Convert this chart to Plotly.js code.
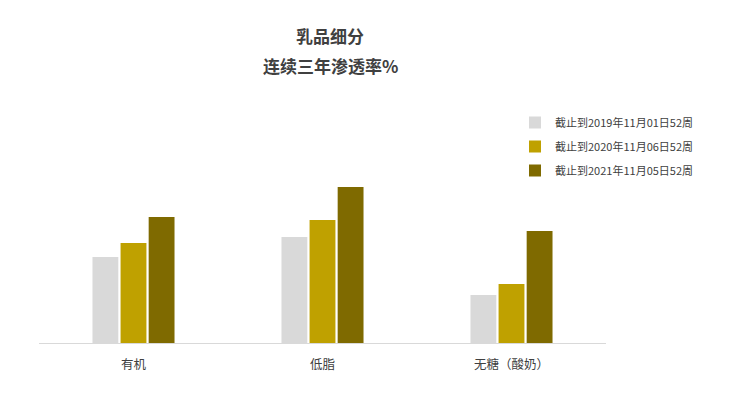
<!DOCTYPE html>
<html>
<head>
<meta charset="utf-8">
<script src="https://cdn.plot.ly/plotly-3.0.1.min.js"></script>
<style>html,body{margin:0;padding:0;background:#fff;}#chart{width:751px;height:396px;}</style>
</head>
<body>
<div id="chart"></div>
<script>
const categories = ['有机', '低脂', '无糖（酸奶）'];
const seriesNames = ['截止到2019年11月01日52周', '截止到2020年11月06日52周', '截止到2021年11月05日52周'];
const values2019 = [8.6, 10.6, 4.8];
const values2020 = [10.0, 12.3, 5.9];
const values2021 = [12.6, 15.6, 11.2];
const colors = ['#D9D9D9', '#BFA100', '#7F6A00'];

const font = '"Noto Sans CJK SC", "Microsoft YaHei", sans-serif';
const allValues = [values2019, values2020, values2021];
const traces = allValues.map((v, i) => ({
  type: 'bar',
  name: seriesNames[i],
  x: categories,
  y: v,
  marker: {color: colors[i]},
  legendgroup: 'g' + i,
  hoverinfo: 'none'
}));

const plotL = 39, plotR = 606, plotT = 100, plotB = 343;
const pw = plotR - plotL, ph = plotB - plotT;

const layout = {
  width: 751, height: 396,
  margin: {l: plotL, r: 751 - plotR, t: plotT, b: 396 - plotB, autoexpand: false},
  paper_bgcolor: '#fff', plot_bgcolor: '#fff',
  font: {family: font, color: '#404040', size: 12},
  title: {
    text: '<b>乳品细分</b>',
    xref: 'container', x: 330 / 751, xanchor: 'center',
    yref: 'container', y: 1 - 37 / 396, yanchor: 'middle',
    font: {family: font, size: 17, color: '#404040'}
  },
  annotations: [{
    text: '<b>连续三年渗透率%</b>',
    xref: 'paper', yref: 'paper',
    x: (330 - plotL) / pw, y: (plotB - 65) / ph,
    xanchor: 'center', yanchor: 'middle', showarrow: false,
    font: {family: font, size: 17, color: '#404040'}
  }],
  barmode: 'group',
  bargap: 0.554,
  bargroupgap: 0.08,
  showlegend: true,
  legend: {
    xref: 'paper', yref: 'paper',
    x: (515 - plotL) / pw, y: (plotB - 108) / ph, xanchor: 'left', yanchor: 'top',
    font: {family: font, size: 11, color: '#404040'},
    traceorder: 'grouped', tracegroupgap: 5,
    bgcolor: 'rgba(0,0,0,0)'
  },
  xaxis: {
    showline: true, linecolor: '#D9D9D9', linewidth: 1,
    showgrid: false, zeroline: false, ticks: '',
    ticklabelstandoff: 10,
    tickfont: {family: font, size: 12.5, color: '#404040'},
    fixedrange: true, automargin: false
  },
  yaxis: {
    range: [0, 24.3], visible: false, showgrid: false, zeroline: false, fixedrange: true, automargin: false
  }
};

Plotly.newPlot('chart', traces, layout, {displayModeBar: false, staticPlot: true});
</script>
</body>
</html>
